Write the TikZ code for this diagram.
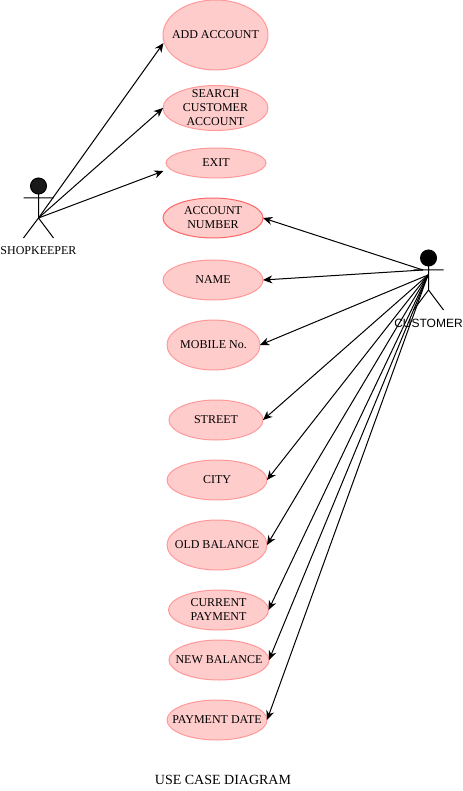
\documentclass[tikz,border=0pt]{standalone}
\usepackage{fontspec}
\setmainfont{Liberation Serif}
\setsansfont{Liberation Sans}
\usetikzlibrary{arrows.meta,shapes.geometric}
\definecolor{ucfill}{HTML}{FFCCCC}
\definecolor{ucline}{HTML}{FF9999}
\definecolor{ucdark}{HTML}{FF6666}
\newcommand{\uctext}[1]{\smash{\raisebox{-2.6pt}{\makebox[0pt]{\begin{tabular}{@{}c@{}}#1\end{tabular}}}}}
\tikzset{
  x=0.75pt,y=-0.75pt,
  uc/.style={ellipse,draw=ucline,fill=ucfill,line width=0.75pt,inner sep=0pt,outer sep=0pt,font=\fontsize{9}{10.5}\selectfont},
  actorline/.style={line width=0.75pt,draw=black},
  conn/.style={line width=0.75pt,draw=black,-{Stealth[length=7pt,width=6pt]}},
  lab/.style={inner sep=0pt,font=\fontsize{9}{10.5}\selectfont}
}
\begin{document}
\begin{tikzpicture}
\useasboundingbox (0,0) rectangle (463,791);
\node[uc,minimum width=78.75pt,minimum height=52.5pt] (add) at (215.5,35) {\uctext{ADD ACCOUNT}};
\node[uc,minimum width=78.75pt,minimum height=33.75pt] (search) at (215.5,108) {\uctext{SEARCH\\CUSTOMER\\ACCOUNT}};
\node[uc,minimum width=75pt,minimum height=22.5pt] (exit) at (216,163) {\uctext{EXIT}};
\node[uc,draw=ucdark,minimum width=75pt,minimum height=30pt] (acct) at (213,218) {\uctext{ACCOUNT\\NUMBER}};
\node[uc,minimum width=75pt,minimum height=30pt] (name) at (213,280) {\uctext{NAME}};
\node[uc,minimum width=69.75pt,minimum height=37.5pt] (mobile) at (213.5,345) {\uctext{MOBILE No.}};
\node[uc,minimum width=70.5pt,minimum height=30pt] (street) at (216,420) {\uctext{STREET}};
\node[uc,minimum width=75pt,minimum height=30pt] (city) at (217,480) {\uctext{CITY}};
\node[uc,minimum width=75pt,minimum height=37.5pt] (old) at (217,545) {\uctext{OLD BALANCE}};
\node[uc,minimum width=75pt,minimum height=30pt] (current) at (218.5,610) {\uctext{CURRENT\\PAYMENT}};
\node[uc,minimum width=75pt,minimum height=30pt] (new) at (219,660) {\uctext{NEW BALANCE}};
\node[uc,minimum width=75pt,minimum height=30pt] (pay) at (217,720) {\uctext{PAYMENT DATE}};
\node[lab,font=\fontsize{10.5}{12}\selectfont] (title) at (223,780) {USE CASE DIAGRAM};
% shopkeeper
\node[circle,fill=black!90,draw=black,line width=0.75pt,minimum size=12pt,inner sep=0pt] (shead) at (38.5,186) {};
\coordinate (sneck) at (38.5,194);
\coordinate (sarmL) at (23.5,198);
\coordinate (sarmR) at (53.5,198);
\coordinate (shub) at (38.5,218);
\coordinate (slegL) at (23.5,238);
\coordinate (slegR) at (53.5,238);
\draw[actorline] (sneck) -- (shub) (sarmL) -- (sarmR) (slegL) -- (shub) -- (slegR);
\node[lab] (shopkeeper) at (38.5,251) {SHOPKEEPER};
% customer
\node[circle,fill=black,draw=black,line width=0.75pt,minimum size=12pt,inner sep=0pt] (chead) at (428.5,258) {};
\coordinate (cneck) at (428.5,266);
\coordinate (carmL) at (413.5,270);
\coordinate (carmR) at (443.5,270);
\coordinate (chub) at (428.5,290);
\coordinate (clegL) at (413.5,310);
\coordinate (clegR) at (443.5,310);
\draw[actorline] (cneck) -- (chub) (carmL) -- (carmR) (clegL) -- (chub) -- (clegR);
\node[lab,font=\sffamily\fontsize{9}{10.5}\selectfont] (customer) at (428.5,323) {CUSTOMER};
% connectors
\coordinate (addin) at (163.5,43);
\coordinate (exitin) at (163.5,171);
\draw[conn] (shub) -- (addin);
\draw[conn] (shub) -- (search.west);
\draw[conn] (shub) -- (exitin);
\coordinate (c1) at (423,270);
\coordinate (c2) at (428,275);
\draw[conn] (c1) -- (acct.east);
\draw[conn] (c1) -- (name.east);
\draw[conn] (c2) -- (mobile.east);
\draw[conn] (c2) -- (street.east);
\draw[conn] (c2) -- (city.east);
\draw[conn] (c2) -- (old.east);
\draw[conn] (c2) -- (current.east);
\draw[conn] (c2) -- (new.east);
\draw[conn] (c2) -- (pay.east);
\end{tikzpicture}
\end{document}
